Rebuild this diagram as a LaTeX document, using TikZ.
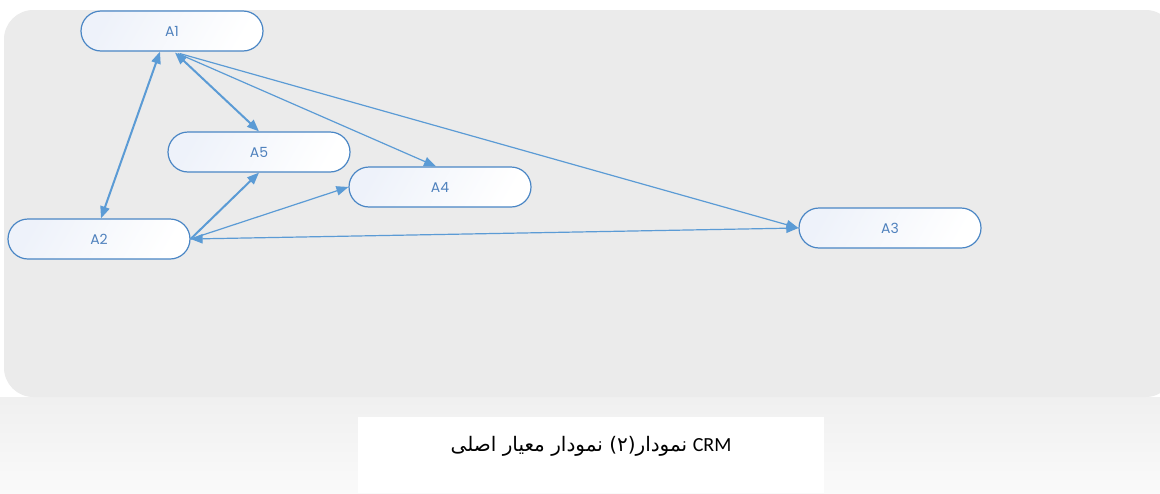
\documentclass[tikz,border=0pt]{standalone}
\usepackage{fontspec}
\setmainfont{Liberation Sans}
\newfontfamily\labelfont{Poppins}
\newfontfamily\arabicfont[Script=Arabic]{DejaVu Sans}
\newfontfamily\latinfont{Carlito}
\TeXXeTstate=1
\usetikzlibrary{arrows.meta,calc}
\definecolor{panel}{HTML}{EBEBEB}
\definecolor{linkblue}{HTML}{5B9BD5}
\definecolor{nodeedge}{HTML}{4A86C5}
\definecolor{nodetext}{HTML}{4F81BD}
\definecolor{nodefill}{HTML}{EEF2FA}
\tikzset{
  crit/.style={draw=nodeedge, line width=0.9pt, rectangle, rounded corners=15pt,
    minimum width=136.5pt, minimum height=30pt, inner sep=0pt,
    left color=nodefill, right color=white, shading angle=60,
    text=nodetext, font=\labelfont\fontsize{10.5}{12}\selectfont},
  link/.style={draw=linkblue, line width=0.9pt, -{Triangle[length=9pt,width=7pt]}},
  linkboth/.style={draw=linkblue, line width=0.9pt, {Triangle[length=9pt,width=7pt]}-{Triangle[length=9pt,width=7pt]}},
  heavy/.style={line width=1.5pt},
}
\begin{document}
\begin{tikzpicture}[x=0.75pt,y=-0.75pt]
\useasboundingbox (0,0) rectangle (1160,493);
\fill[white] (0,0) rectangle (1160,493);
% reflection area
\shade[top color=black!6, bottom color=black!2] (0,397) rectangle (1160,493);
% gray panel
\fill[panel, rounded corners=22pt] (4,10) rectangle (1175,397);
\fill[white] (1160,0) rectangle (1180,493);
% caption box
\fill[white] (358,417) rectangle (824,493);
\node (cap) at (591,446) {\fontsize{15}{18}\selectfont\beginR{\latinfont\beginL CRM\endL} {\arabicfont نمودار(۲) نمودار معیار اصلی}\endR};
% nodes
\node[crit] (A1) at (172,31) {A1};
\node[crit] (A2) at (99,239) {A2};
\node[crit] (A3) at (890,228) {A3};
\node[crit] (A4) at (440,187) {A4};
\node[crit] (A5) at (259,152) {A5};
% connectors
\draw[linkboth, heavy] ($(A1.south)+(-12,0)$) -- ($(A2.north)+(2,0)$);
\draw[linkboth, heavy] ($(A1.south)+(3,1)$) -- (A5.north);
\draw[link] ($(A1.south)+(6,2)$) -- ($(A4.north)+(-4,0)$);
\draw[link] ($(A1.south)+(8,2)$) -- (A3.west);
\draw[link, heavy] (A2.east) -- (A5.south);
\draw[link] (A2.east) -- (A4.west);
\draw[linkboth] (A2.east) -- (A3.west);
\end{tikzpicture}
\end{document}
